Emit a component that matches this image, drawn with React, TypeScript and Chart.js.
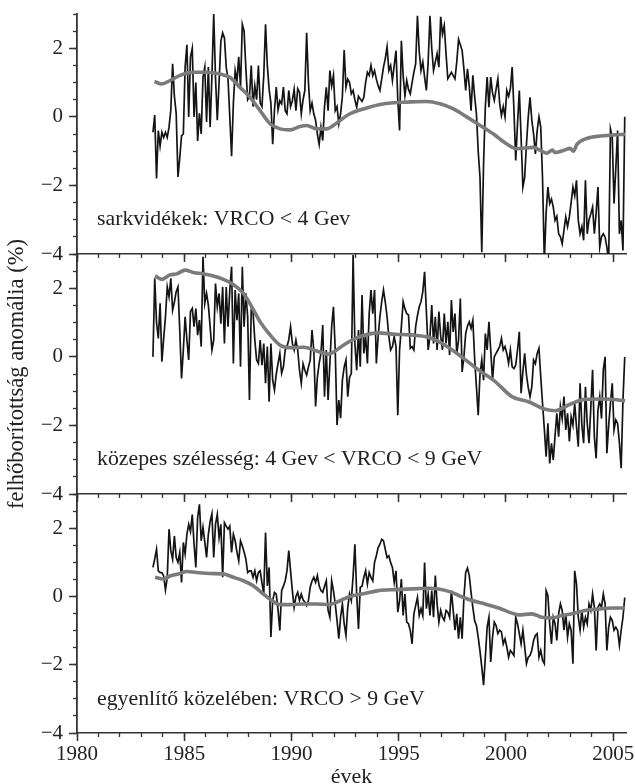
import React, { useEffect, useRef } from 'react';
import { Chart, registerables } from 'chart.js';

Chart.register(...registerables);

// ---- data -------------------------------------------------------------
// monthly anomalies, first month July 1983
const START_YEAR = 1983 + 6.5 / 12;
const MONTH = 1 / 12;

const polarValues = [
  -0.45, 0.05, -1.8, -0.4, -0.85, -0.45, -0.6, -0.45, -0.6, -0.3,
  0.2, 1.55, 0.6, 0.1, -1.75, -1.2, -0.55, -0.5, 1.45, 2.1,
  0.0, 1.75, 2.0, 0.0, 1.0, -0.7, 0.1, -0.5, 1.15, 1.45,
  -0.15, 1.45, -0.3, 1.2, 3.0, 1.15, -0.1, 1.0, 2.2, 2.45,
  2.3, 1.45, 1.1, 0.0, -1.15, 0.4, 1.35, 1.05, 1.75, 0.85,
  2.7, 2.5, 1.4, 0.5, 0.6, 1.5, 0.3, 0.9, 0.5, 1.5,
  0.4, 0.3, 1.2, 2.7, 1.5, 0.8, 0.4, -0.8, 0.2, 0.87,
  0.2, 0.47, 0.38, 0.87, 0.18, 0.09, 0.77, 0.3, 0.47, 0.8,
  0.18, 0.82, 0.72, 0.09, 0.5, 0.77, 2.45, 1.0, 0.18, 0.4,
  0.09, -0.1, -0.5, -0.8, -0.3, -0.69, 0.3, 0.86, 0.18, 1.35,
  0.9, 1.21, 0.18, 0.3, -0.2, 0.09, 0.6, 1.95, 0.86, 1.1,
  1.01, 0.67, 0.77, 0.5, 0.28, 0.6, 0.52, 0.45, 0.57, 1.0,
  1.3, 1.21, 1.5, 1.2, 1.35, 1.1, 0.91, 0.77, 1.1, 1.45,
  1.7, 2.04, 1.35, 1.5, 1.06, 1.5, 1.93, 0.5, -0.4, 2.22,
  1.2, 0.62, 1.06, 0.8, 0.67, 1.0, 1.3, 1.55, 2.95, 1.9,
  1.35, 1.6, 1.16, 0.77, 1.6, 2.95, 2.0, 1.35, 1.6, 1.84,
  1.45, 2.92, 2.41, 2.66, 1.84, 1.11, 1.2, 1.3, 1.2, 1.11,
  1.6, 2.26, 2.1, 1.94, 1.4, 0.77, 1.4, 0.9, 0.18, 1.21,
  0.6, 0.09, -1.0, -1.76, -3.95, -1.37, 0.3, 1.16, 0.28, 1.16,
  0.7, 0.48, 0.8, 1.11, 0.4, 0.04, 0.3, 0.0, 0.77, 0.6,
  0.82, 1.45, 0.2, -1.27, -0.2, 0.77, -0.6, -2.05, -1.76, -0.8,
  0.0, 0.57, -0.1, -0.5, -1.08, -0.4, 0.0, -0.3, -1.8, -4.2,
  -2.8, -2.05, -2.53, -2.4, -2.63, -3.02, -2.9, -3.41, -3.5, -3.7,
  -3.3, -2.92, -3.2, -2.92, -2.5, -2.05, -2.3, -1.85, -3.02, -3.41,
  -3.2, -3.6, -1.85, -3.41, -3.0, -2.83, -2.63, -3.41, -2.8, -2.05,
  -3.8, -3.5, -3.41, -3.51, -3.8, -4.2, -0.35, -0.59, -2.53, -1.5,
  -0.4, -3.41, -3.02, -3.9, 0.0,
];

const midValues = [
  0.0, 2.29, 1.0, 0.54, 1.56, -0.14, 0.54, 1.17, 2.04, 1.75,
  2.29, 1.36, 1.6, 1.9, 2.04, 0.78, -0.63, 0.2, 1.17, 0.5,
  -0.09, 1.32, 1.41, 0.88, 1.41, 0.63, 1.07, 0.3, 2.92, 1.56,
  1.85, 1.51, 0.88, 0.2, 0.49, 2.14, 1.46, 1.85, 0.97, 2.04,
  0.39, 2.04, 0.88, 1.95, 2.63, -0.19, 1.95, 1.07, 1.85, -0.29,
  2.63, 0.88, 1.85, 1.17, -1.26, 1.36, 1.31, 0.49, -0.09, -0.19,
  0.49, -0.24, 0.39, -0.77, 0.3, -1.31, 0.39, -0.68, -0.97, -0.5,
  -0.19, 0.1, -0.48, -0.29, 0.2, 0.3, 0.5, 0.88, 0.4, 0.2,
  0.49, 0.2, -0.39, -0.77, -0.2, -0.39, -0.53, -0.3, -0.09, 0.78,
  0.2, -1.45, -0.6, -0.19, 0.1, 0.93, -1.16, 0.2, -1.26, -0.19,
  0.88, 1.46, 0.2, -1.99, -1.26, -1.79, -0.68, -0.3, -0.09, -1.16,
  -0.6, -0.48, 2.97, 0.39, -0.39, 0.78, -0.29, 1.8, 0.1, 0.6,
  -0.19, 1.26, 1.95, 1.26, 1.95, -0.19, 0.6, 1.17, 1.61, 1.95,
  1.6, 1.17, 0.6, 0.2, 0.3, 0.59, 0.3, -1.7, 0.2, 0.88,
  1.61, 1.4, 1.26, 1.22, 0.25, 0.3, 0.2, 0.88, 1.2, 1.46,
  1.61, 1.9, 2.48, 1.32, 0.2, 0.59, 1.51, 0.39, 1.17, 0.2,
  1.32, 0.6, 0.2, 1.26, 0.39, 1.02, 0.05, 1.66, 0.73, 1.26,
  0.1, 0.49, 1.7, -0.44, 0.0, 0.68, 0.9, 1.02, 0.83, 1.07,
  -0.04, -0.87, -1.7, -0.5, -0.09, -0.68, 0.68, 0.2, 1.02, 0.2,
  -0.68, 0.0, 0.1, 0.2, 0.3, 0.54, 0.2, 0.3, 0.1, -0.19,
  0.2, -0.29, -0.34, -0.24, 0.2, 0.73, -1.06, -0.44, 0.1, -0.53,
  -0.9, -1.16, -0.87, -0.09, -0.2, 0.1, 0.25, -0.58, -1.36, -2.1,
  -2.91, -1.94, -3.11, -2.52, -3.01, -2.3, -1.65, -2.33, -1.45, -1.8,
  -1.16, -2.13, -1.65, -2.47, -1.75, -2.0, -1.36, -2.04, -2.62, -0.77,
  -2.0, -2.52, -0.87, -1.94, -2.52, -1.5, -0.38, -2.33, -2.96, -1.55,
  -1.16, -1.8, -0.38, 0.0, -2.81, -2.0, -1.36, -0.77, -2.13, -1.84,
  -1.94, -2.5, -3.25, -1.26, 0.0,
];

const equatorValues = [
  0.85, 1.1, 1.38, 0.75, 0.7, 0.7, 0.6, 0.19, 0.56, 1.97,
  1.34, 1.09, 1.77, 1.14, 1.0, 1.29, 0.41, 1.58, 1.24, 1.82,
  2.11, 1.9, 2.4, 1.53, 0.85, 2.31, 2.7, 1.63, 2.02, 1.6,
  1.14, 1.82, 2.2, 2.42, 1.14, 2.11, 2.4, 1.72, 2.11, 0.56,
  2.16, 2.06, 1.97, 2.06, 1.29, 1.82, 1.63, 1.3, 1.04, 1.63,
  1.48, 1.3, 1.09, 0.7, 0.75, 0.75, 0.56, 0.75, 0.46, 0.7,
  0.75, 0.4, 0.07, 1.87, 0.31, 0.85, -1.19, -0.12, 0.12, 0.07,
  -0.4, -1.0, 0.17, 0.3, 0.46, 0.75, 1.34, 0.75, 0.17, -0.32,
  0.0, 0.12, -0.12, 0.07, -0.1, -0.17, -0.27, -0.12, 0.27, 0.45,
  0.56, 0.41, 0.61, 0.31, 0.17, 0.12, 0.3, 0.46, -0.41, -0.61,
  0.46, 0.17, -0.22, -0.7, -1.24, -0.61, -0.22, -0.8, -1.14, -0.32,
  0.07, -0.12, 0.6, 1.53, 0.07, -0.95, 0.27, 0.3, 0.56, 0.75,
  0.36, 0.7, 0.56, 0.46, 1.0, 1.19, 1.43, 1.53, 1.67, 1.63,
  1.38, 1.14, 1.19, 0.99, 0.85, 0.41, 0.75, -0.46, -0.12, 0.51,
  -0.56, 0.07, -0.75, -0.8, -1.0, -1.39, -0.51, -0.27, -0.03, -0.56,
  -0.36, -0.56, 0.99, -0.36, 0.07, -0.56, 0.17, -0.61, 0.61, -0.22,
  -0.75, -0.41, -0.61, -0.7, -0.41, -0.46, -0.61, 0.17, -0.41, -0.99,
  -0.51, -1.24, -0.61, -1.24, -0.03, 0.7, 0.83, 0.61, 0.12, -0.32,
  -0.71, -0.85, -1.19, -1.6, -2.07, -2.6, -1.78, -0.9, -0.61, -1.92,
  -1.2, -0.75, -0.85, -1.09, -0.99, -1.04, -1.39, -1.24, -1.48, -1.78,
  -1.58, -1.65, -1.73, -0.61, -0.8, -1.09, -1.39, -0.99, -1.48, -1.97,
  -1.78, -1.73, -1.58, -1.29, -1.14, -1.09, -1.78, -1.58, -1.87, -1.97,
  0.17, 0.02, -0.8, -1.39, -0.61, -0.8, -1.29, -0.51, -0.22, -0.41,
  -0.99, -0.51, -1.19, -0.8, -0.99, -1.97, 0.75, 0.36, -0.61, -0.99,
  -0.41, -0.9, -0.61, -0.8, -0.22, -0.41, 0.07, -0.32, -1.58, -0.32,
  -0.22, -0.32, 0.07, -0.22, -1.58, -0.9, -0.61, -0.7, -0.99, -0.9,
  -0.99, -1.43, -0.99, -0.61, -0.03,
];

// smoothed trends (year, value)
const polarTrendYears = [
  1983.61, 1983.95, 1984.34, 1984.8, 1985.42, 1986.05, 1986.67, 1987.14, 1987.6, 1988.07,
  1988.54, 1989.0, 1989.47, 1989.93, 1990.4, 1990.71, 1991.18, 1991.65, 1991.95, 1992.73,
  1993.51, 1994.13, 1994.75, 1995.38, 1996.31, 1996.93, 1997.55, 1998.17, 1998.8, 1999.42,
  2000.04, 2000.51, 2001.28, 2001.6, 2001.91, 2002.17, 2002.3, 2002.68, 2002.99, 2003.15,
  2003.31, 2003.77, 2004.39, 2005.01, 2005.56,
];
const polarTrendValues = [
  1.03, 0.96, 1.06, 1.21, 1.3, 1.3, 1.25, 1.15, 0.86, 0.57,
  0.18, -0.2, -0.35, -0.38, -0.28, -0.25, -0.35, -0.35, -0.25, 0.09,
  0.26, 0.36, 0.41, 0.43, 0.45, 0.38, 0.23, 0.0, -0.25, -0.5,
  -0.79, -0.93, -0.89, -0.98, -1.06, -0.97, -1.04, -0.98, -0.92, -1.0,
  -0.8, -0.63, -0.56, -0.53, -0.51,
];

const midTrendYears = [
  1983.64, 1983.95, 1984.34, 1984.65, 1985.04, 1985.43, 1985.89, 1986.36, 1986.82, 1987.29,
  1987.76, 1988.15, 1988.54, 1989.0, 1989.47, 1989.93, 1990.56, 1991.18, 1991.72, 1992.11,
  1992.42, 1992.89, 1993.28, 1994.05, 1994.83, 1995.61, 1996.39, 1997.16, 1997.94, 1998.72,
  1999.5, 2000.28, 2001.05, 2001.83, 2002.3, 2003.07, 2003.69, 2004.63, 2005.56,
];
const midTrendValues = [
  2.36, 2.26, 2.39, 2.42, 2.53, 2.46, 2.42, 2.36, 2.26, 2.11,
  1.85, 1.46, 1.02, 0.64, 0.34, 0.27, 0.28, 0.17, 0.08, 0.2,
  0.34, 0.51, 0.61, 0.7, 0.66, 0.64, 0.57, 0.34, 0.0, -0.38,
  -0.72, -1.16, -1.31, -1.53, -1.57, -1.36, -1.24, -1.23, -1.28,
];

const equatorTrendYears = [
  1983.64, 1984.03, 1984.34, 1984.8, 1985.12, 1985.58, 1986.2, 1986.82, 1987.29, 1987.76,
  1988.22, 1988.69, 1989.08, 1989.47, 1989.93, 1990.56, 1991.18, 1991.72, 1992.11, 1992.58,
  1993.05, 1993.28, 1994.05, 1994.83, 1995.61, 1996.39, 1996.86, 1997.48, 1997.94, 1998.41,
  1999.03, 1999.66, 2000.28, 2000.59, 2001.21, 2001.67, 2002.14, 2002.61, 2003.07, 2003.69,
  2004.32, 2004.94, 2005.56,
];
const equatorTrendValues = [
  0.56, 0.51, 0.6, 0.67, 0.73, 0.7, 0.67, 0.66, 0.56, 0.46,
  0.31, 0.07, -0.12, -0.24, -0.24, -0.22, -0.22, -0.24, -0.17, -0.04,
  0.05, 0.07, 0.17, 0.2, 0.22, 0.24, 0.22, 0.12, -0.01, -0.12,
  -0.22, -0.34, -0.49, -0.54, -0.51, -0.61, -0.63, -0.56, -0.51, -0.41,
  -0.37, -0.34, -0.34,
];

const panelLabels = [
  'sarkvidékek: VRCO < 4 Gev',
  'közepes szélesség: 4 Gev < VRCO < 9 GeV',
  'egyenlítő közelében: VRCO > 9 GeV',
];
const yAxisTitle = 'felhőborítottság anomália (%)';
const xAxisTitle = 'évek';

const X_MIN = 1980;
const X_MAX = 2005.6;
const Y_MIN = -4;
const Y_MAX = 3;

// ---- styling ----------------------------------------------------------
const FONT = '"Liberation Serif", "Times New Roman", serif';
const AXIS = '#333333';
const TEXT = '#222222';
const BLACK = '#141414';
const GRAY = '#7b7b7b';

Chart.defaults.font.family = FONT;
Chart.defaults.font.size = 21;
Chart.defaults.color = TEXT;

const panelLabelPlugin = {
  id: 'panelLabel',
  afterDatasetsDraw(chart: any, _args: any, opts: any) {
    const { ctx, chartArea, scales } = chart;
    ctx.save();
    ctx.font = `21.8px ${FONT}`;
    ctx.fillStyle = TEXT;
    ctx.textAlign = 'left';
    ctx.textBaseline = 'middle';
    ctx.fillText(opts.text, chartArea.left + 20, scales.y.getPixelForValue(-3));
    ctx.restore();
  },
};

const minusLabel = (v: number) => (v < 0 ? '\u2212' + Math.abs(v) : String(v));

type PanelProps = {
  top: number;
  height: number;
  axisHeight: number;
  values: number[];
  trendYears: number[];
  trendValues: number[];
  label: string;
  showXLabels?: boolean;
  yTitle?: string;
};

function Panel(p: PanelProps) {
  const ref = useRef<HTMLCanvasElement>(null);
  useEffect(() => {
    const monthly = p.values.map((v, i) => ({ x: START_YEAR + i * MONTH, y: v }));
    const trend = p.trendYears.map((x, i) => ({ x, y: p.trendValues[i] }));
    const chart = new Chart(ref.current as HTMLCanvasElement, {
      type: 'line',
      data: {
        datasets: [
          {
            data: trend,
            borderColor: GRAY,
            borderWidth: 3.6,
            pointRadius: 0,
            cubicInterpolationMode: 'monotone',
            order: 0,
          },
          {
            data: monthly,
            borderColor: BLACK,
            borderWidth: 1.7,
            pointRadius: 0,
            tension: 0,
            order: 1,
          },
        ],
      },
      options: {
        responsive: false,
        animation: false,
        devicePixelRatio: 1,
        events: [],
        layout: { padding: { top: 14, right: 9, left: 0, bottom: 0 } },
        plugins: {
          legend: { display: false },
          tooltip: { enabled: false },
          panelLabel: { text: p.label },
        } as any,
        scales: {
          x: {
            type: 'linear',
            position: 'bottom',
            weight: 1,
            min: X_MIN,
            max: X_MAX,
            ticks: {
              stepSize: 5,
              includeBounds: false,
              autoSkip: false,
              display: !!p.showXLabels,
              padding: 1,
              color: TEXT,
              font: { size: 21 },
              callback: (v: any) => String(v),
            },
            grid: {
              drawOnChartArea: false,
              drawTicks: true,
              tickLength: 8,
              tickWidth: 1.5,
              tickColor: AXIS,
            },
            border: { display: true, color: AXIS, width: 1.6 },
            title: {
              display: !!p.showXLabels,
              text: xAxisTitle,
              color: TEXT,
              font: { size: 22, lineHeight: 0.7 },
              padding: { top: 0, bottom: -1 },
            },
            afterFit: (s: any) => {
              s.height = p.axisHeight;
              s.paddingLeft = 0;
              s.paddingRight = 0;
            },
          },
          xm: {
            type: 'linear',
            position: 'bottom',
            weight: 0,
            min: X_MIN,
            max: X_MAX,
            ticks: { stepSize: 1, includeBounds: false, autoSkip: false, display: false },
            grid: {
              drawOnChartArea: false,
              drawTicks: true,
              tickLength: 4,
              tickWidth: 1.3,
              tickColor: AXIS,
            },
            border: { display: false },
            afterFit: (s: any) => {
              s.height = 0;
              s.paddingLeft = 0;
              s.paddingRight = 0;
            },
          },
          y: {
            type: 'linear',
            position: 'left',
            weight: 1,
            min: Y_MIN,
            max: Y_MAX,
            ticks: {
              stepSize: 2,
              includeBounds: false,
              autoSkip: false,
              padding: 6,
              color: TEXT,
              font: { size: 21 },
              callback: (v: any) => minusLabel(Number(v)),
            },
            grid: {
              drawOnChartArea: false,
              drawTicks: true,
              tickLength: 8,
              tickWidth: 1.5,
              tickColor: AXIS,
            },
            border: { display: true, color: AXIS, width: 1.8 },
            title: {
              display: !!p.yTitle,
              text: p.yTitle || '',
              color: TEXT,
              font: { size: 22.5 },
              padding: { top: 4, bottom: 0 },
            },
            afterFit: (s: any) => {
              s.width = 77;
              s.paddingTop = 0;
              s.paddingBottom = 0;
            },
          },
          ym: {
            type: 'linear',
            position: 'left',
            weight: 0,
            min: Y_MIN,
            max: Y_MAX,
            ticks: { stepSize: 0.5, includeBounds: false, autoSkip: false, display: false },
            grid: {
              drawOnChartArea: false,
              drawTicks: true,
              tickLength: 4,
              tickWidth: 1.3,
              tickColor: AXIS,
            },
            border: { display: false },
            afterFit: (s: any) => {
              s.width = 0;
              s.paddingTop = 0;
              s.paddingBottom = 0;
            },
          },
        } as any,
      },
      plugins: [panelLabelPlugin],
    } as any);
    return () => chart.destroy();
  }, []);
  return (
    <canvas
      ref={ref}
      width={635}
      height={p.height}
      style={{ position: 'absolute', left: 0, top: p.top, width: 635, height: p.height }}
    />
  );
}

export default function App() {
  return (
    <div style={{ position: 'absolute', left: 0, top: 0, width: 635, height: 784, background: '#fff', overflow: 'hidden' }}>
      <Panel
        top={0}
        height={270}
        axisHeight={16}
        values={polarValues}
        trendYears={polarTrendYears}
        trendValues={polarTrendValues}
        label={panelLabels[0]}
      />
      <Panel
        top={240}
        height={270}
        axisHeight={16}
        values={midValues}
        trendYears={midTrendYears}
        trendValues={midTrendValues}
        label={panelLabels[1]}
        yTitle={yAxisTitle}
      />
      <Panel
        top={480}
        height={304}
        axisHeight={51}
        values={equatorValues}
        trendYears={equatorTrendYears}
        trendValues={equatorTrendValues}
        label={panelLabels[2]}
        showXLabels
      />
    </div>
  );
}
